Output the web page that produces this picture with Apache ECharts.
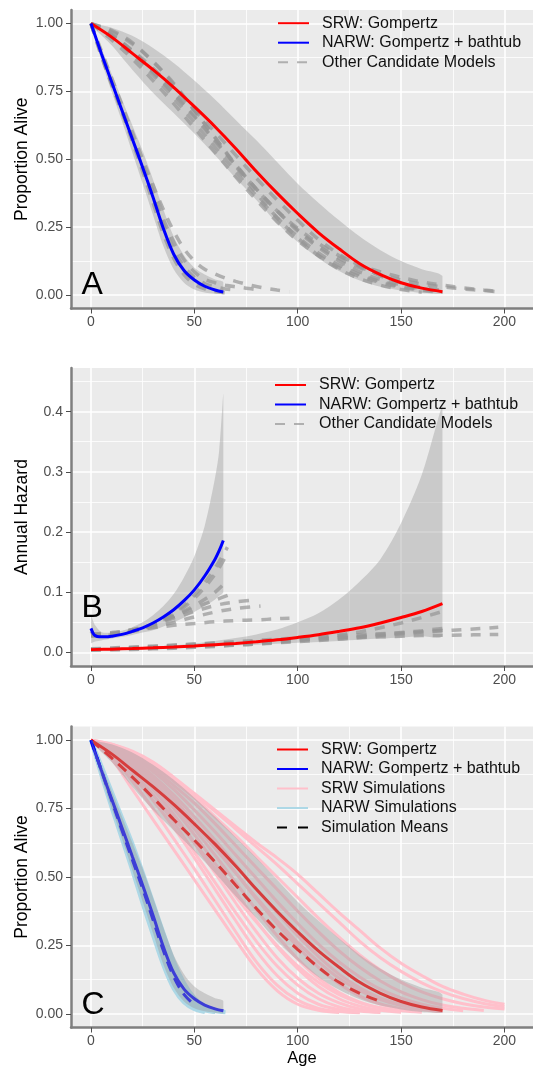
<!DOCTYPE html>
<html>
<head>
<meta charset="utf-8">
<script src="https://cdn.jsdelivr.net/npm/echarts@6/dist/echarts.min.js"></script>
<style>
  html, body { margin: 0; background: #fff; }
  #chart { width: 533px; height: 1068px; }
</style>
</head>
<body>
<div id="chart"></div>
<script>
// ---- ages ----
const ageSRW = [0, 10, 20, 30, 40, 50, 60, 70, 80, 90, 100, 110, 120, 130, 140, 150, 160, 170];
const ageSRW197 = [0, 10, 20, 30, 40, 50, 60, 70, 80, 90, 100, 110, 120, 130, 140, 150, 160, 170, 180, 190, 197];
const ageNARW = [0, 5, 10, 15, 20, 25, 30, 35, 40, 45, 50, 55, 60, 64];
const simAgeSRW = [0, 10, 20, 30, 40, 50, 60, 70, 80, 90, 100, 110, 120, 130, 140, 150, 160, 170, 180, 190, 200];
const simAgeNARW = [0, 5, 10, 15, 20, 25, 30, 35, 40, 45, 50, 55, 60, 65, 70];

// ---- panel A: survival ----
const srwSurv   = [1, .95, .89, .83, .765, .694, .62, .54, .455, .375, .30, .23, .17, .115, .075, .045, .025, .012];
const srwSurvHi = [1, .985, .955, .91, .855, .79, .72, .645, .57, .49, .41, .34, .275, .215, .165, .125, .095, .07];
const srwSurvLo = [1, .92, .83, .745, .67, .595, .515, .43, .35, .265, .195, .135, .088, .053, .03, .016, .007, .003];
const narwSurv   = [1, .89, .785, .68, .575, .47, .36, .245, .15, .09, .055, .032, .018, .011];
const narwSurvHi = [1, .91, .815, .72, .625, .53, .425, .315, .215, .145, .1, .075, .057, .047];
const narwSurvLo = [1, .865, .75, .64, .525, .41, .295, .18, .095, .045, .02, .009, .004, .002];

// other candidate models, survival
const candSurv = [
  [ageSRW197, [1, .975, .93, .86, .78, .68, .58, .48, .39, .31, .245, .19, .145, .11, .085, .065, .048, .036, .026, .018, .013]],
  [ageSRW197, [1, .96, .9, .825, .745, .66, .57, .48, .39, .31, .24, .18, .135, .1, .075, .055, .04, .03, .022, .016, .012]],
  [ageSRW, [1, .955, .895, .82, .74, .655, .565, .475, .39, .31, .235, .175, .125, .085, .057, .037, .023, .014]],
  [ageSRW, [1, .95, .885, .81, .725, .635, .545, .455, .365, .285, .215, .155, .11, .075, .05, .032, .02, .012]],
  [ageSRW, [1, .94, .87, .79, .705, .615, .525, .435, .35, .27, .2, .145, .1, .068, .045, .028, .017, .01]],
  [ageSRW, [1, .97, .925, .86, .775, .68, .58, .475, .375, .285, .21, .145, .095, .06, .036, .02, .01]],
  [ageSRW, [1, .955, .9, .835, .76, .68, .6, .515, .43, .35, .275, .205, .15, .105, .07, .045, .028, .017]],
  [[0, 5, 10, 15, 20, 25, 30, 35, 40, 45, 50, 55, 60, 65, 70, 75, 80, 85, 90, 96],
   [1, .9, .8, .7, .6, .5, .405, .315, .235, .17, .125, .095, .077, .062, .05, .04, .031, .024, .018, .012]],
  [[0, 5, 10, 15, 20, 25, 30, 35, 40, 45, 50, 55, 60, 65, 70, 75, 80, 83],
   [1, .885, .78, .68, .58, .48, .38, .28, .195, .13, .085, .058, .045, .036, .03, .025, .02, .018]],
  [[0, 5, 10, 15, 20, 25, 30, 35, 40, 45, 50, 55, 60, 65, 70],
   [1, .88, .775, .675, .575, .47, .365, .26, .17, .105, .065, .042, .03, .022, .018]],
  [[0, 5, 10, 15, 20, 25, 30, 35, 40, 45, 50, 55, 60, 65],
   [1, .89, .78, .675, .565, .455, .34, .225, .135, .075, .04, .022, .013, .008]]
];

// ---- panel B: annual hazard ----
const srwHaz   = [.0047, .0055, .0065, .0077, .0091, .0108, .0128, .015, .0178, .021, .025, .0295, .035, .041, .049, .058, .068, .081];
const srwHazHi = [.006, .007, .0085, .01, .012, .015, .019, .024, .03, .038, .05, .065, .088, .118, .155, .215, .295, .41];
const srwHazLo = [.003, .004, .005, .006, .0075, .009, .0105, .012, .013, .0145, .016, .0175, .019, .021, .023, .025, .027, .029];
const narwHazAge = [0, 1, 2, 4, 7, 10, 15, 20, 25, 30, 35, 40, 45, 50, 55, 60, 62, 64];
const narwHaz    = [.04, .032, .028, .026, .026, .027, .03, .035, .041, .049, .059, .071, .086, .104, .127, .155, .169, .186];
const narwBandAge = [0, 2, 5, 10, 15, 20, 25, 30, 35, 40, 45, 50, 55, 60, 62, 64];
const narwHazHi = [.06, .045, .034, .033, .036, .042, .05, .062, .077, .097, .125, .16, .21, .29, .335, .43];
const narwHazLo = [.015, .018, .02, .023, .026, .029, .033, .037, .043, .05, .058, .067, .077, .088, .094, .1];

const candHaz = [
  [ageSRW, [.004, .0045, .005, .006, .007, .0085, .01, .012, .014, .017, .02, .024, .029, .034, .041, .049, .058, .068]],
  [ageSRW197, [.005, .0065, .008, .01, .012, .014, .016, .018, .02, .022, .024, .026, .028, .0295, .031, .0325, .034, .036, .038, .04, .042]],
  [ageSRW197, [.006, .0075, .009, .0105, .012, .0135, .015, .0165, .018, .0195, .021, .0225, .024, .025, .026, .027, .028, .0285, .029, .0295, .03]],
  [ageSRW, [.004, .005, .006, .007, .008, .0095, .011, .0125, .014, .016, .018, .02, .022, .025, .028, .031, .034, .037]],
  [ageSRW, [.005, .006, .007, .008, .0095, .011, .0125, .014, .016, .018, .02, .022, .0245, .027, .03, .033, .036, .04]],
  [[0, 10, 20, 30, 40, 50, 60, 70, 80, 90, 96], [.03, .033, .037, .041, .045, .048, .051, .053, .054, .056, .057]],
  [[0, 10, 20, 30, 40, 50, 60, 70, 82], [.028, .03, .035, .042, .05, .059, .067, .073, .077]],
  [[0, 10, 20, 30, 40, 50, 60, 70, 78], [.03, .032, .038, .046, .057, .068, .078, .084, .087]],
  [[0, 10, 20, 30, 40, 50, 60, 68], [.028, .031, .037, .047, .06, .074, .087, .097]],
  [[0, 10, 20, 30, 40, 50, 60, 66], [.027, .03, .036, .046, .06, .078, .1, .12]],
  [[0, 10, 20, 30, 40, 50, 60, 66], [.03, .03, .036, .046, .063, .09, .13, .165]],
  [[0, 3, 10, 20, 30, 40, 50, 60, 66], [.035, .028, .029, .035, .046, .065, .095, .14, .175]]
];

// ---- panel C: simulations ----
const srwSims = [
  [1, .93, .82, .71, .6, .49, .38, .27, .165, .085, .035, .013, .005],
  [1, .94, .85, .75, .64, .53, .415, .3, .19, .105, .05, .02, .008, .004],
  [1, .95, .87, .78, .68, .57, .455, .34, .23, .14, .075, .035, .015, .006],
  [1, .955, .885, .8, .7, .59, .48, .37, .265, .175, .105, .055, .025, .01, .005],
  [1, .96, .9, .82, .73, .625, .515, .405, .3, .205, .13, .075, .04, .018, .008],
  [1, .965, .91, .835, .75, .655, .55, .445, .34, .245, .165, .1, .055, .028, .013, .006],
  [1, .97, .92, .85, .765, .675, .58, .48, .38, .285, .2, .13, .078, .043, .022, .011, .006],
  [1, .97, .925, .86, .785, .7, .61, .515, .42, .33, .245, .17, .11, .065, .036, .019, .009],
  [1, .975, .93, .87, .8, .72, .635, .545, .455, .37, .285, .21, .145, .095, .058, .033, .018, .009],
  [1, .975, .94, .885, .82, .745, .665, .58, .495, .41, .33, .255, .19, .135, .09, .058, .035, .02, .011],
  [1, .98, .945, .895, .835, .77, .695, .615, .535, .455, .375, .3, .23, .17, .12, .08, .052, .032, .02, .012],
  [1, .98, .95, .905, .85, .79, .72, .65, .575, .5, .425, .35, .28, .215, .16, .115, .08, .055, .037, .025, .018],
  [1, .985, .955, .915, .86, .8, .74, .675, .61, .545, .475, .405, .335, .265, .205, .155, .113, .08, .056, .038, .026],
  [1, .985, .96, .92, .865, .805, .745, .685, .625, .57, .51, .44, .37, .305, .24, .185, .14, .1, .072, .05, .035],
  [1, .96, .905, .84, .77, .69, .605, .515, .425, .34, .26, .19, .13, .085, .052, .03, .016, .008],
  [1, .95, .88, .8, .715, .625, .53, .43, .335, .25, .175, .115, .07, .04, .021, .01]
];
const narwSims = [
  [1, .9, .8, .7, .6, .495, .385, .27, .165, .09, .045, .02, .009, .005],
  [1, .89, .78, .675, .565, .455, .34, .225, .13, .065, .03, .012, .006],
  [1, .88, .765, .655, .54, .425, .31, .195, .105, .05, .02, .008],
  [1, .91, .815, .72, .625, .52, .41, .3, .195, .115, .06, .03, .015, .008],
  [1, .87, .75, .635, .52, .4, .285, .175, .09, .04, .016, .006],
  [1, .9, .795, .69, .585, .475, .36, .245, .145, .075, .035, .015, .007],
  [1, .885, .775, .665, .55, .435, .32, .21, .12, .06, .026, .01]
];
const srwSimMean  = [1, .935, .865, .79, .71, .635, .555, .47, .385, .305, .235, .17, .115, .075, .045];
const narwSimMean = [1, .89, .78, .67, .563, .457, .344, .231, .136, .071, .033];

// ---- ticks ----
const xMajor = [0, 50, 100, 150, 200];
const xMinor = [25, 75, 125, 175];
const survMajor = [0, 0.25, 0.5, 0.75, 1];
const survMinor = [0.125, 0.375, 0.625, 0.875];
const hazMajor = [0, 0.1, 0.2, 0.3, 0.4];
const hazMinor = [0.05, 0.15, 0.25, 0.35, 0.45];

const FONT = '"Liberation Sans", Arial, Helvetica, sans-serif';
const RED = '#FF0000', BLUE = '#0000FF', PINK = '#FFC0CB', LBLUE = '#ADD8E6';
const CAND = 'rgba(150,150,150,0.7)';
const RIB = 'rgba(153,153,153,0.4)';
const AXIS = '#7F7F7F';
const DASH = [10, 9];

const zip = (ages, vals) => vals.map((v, i) => [ages[i], v]);

function line(name, g, data, color, width, dash) {
  return {
    type: 'line', name, xAxisIndex: g, yAxisIndex: g, data, z: 2,
    smooth: 0.35, symbol: 'none', silent: true,
    lineStyle: { color, width, type: dash || 'solid', cap: 'butt' },
    itemStyle: { color }
  };
}

// confidence band drawn as one polygon through the axes' own coordinates
function ribbon(g, ages, lo, hi, z) {
  return {
    type: 'custom', xAxisIndex: g, yAxisIndex: g, silent: true, clip: true, z,
    data: [[ages[0], lo[0]]],
    renderItem: (params, api) => {
      const pts = ages.map((a, i) => api.coord([a, hi[i]]));
      for (let i = ages.length - 1; i >= 0; i--) {
        if (i === 0 && lo[0] === hi[0]) break;
        pts.push(api.coord([ages[i], lo[i]]));
      }
      const xs = pts.map(p => p[0]), ys = pts.map(p => p[1]);
      const box = [[Math.min(...xs), Math.min(...ys)], [Math.max(...xs), Math.max(...ys)]];
      return {
        type: 'polygon',
        shape: { points: pts, smooth: 0.3, smoothConstraint: box },
        style: { fill: RIB }
      };
    }
  };
}

function xAxes(g, title) {
  return [{
    type: 'value', gridIndex: g, min: -9.67, max: 213.8,
    name: title || '', nameLocation: 'middle', nameGap: 22, nameMoveOverlap: false,
    nameTextStyle: { fontSize: 16.5, color: '#000', fontFamily: FONT },
    axisLine: { show: true, onZero: false, lineStyle: { color: AXIS, width: 2.5 } },
    axisTick: { show: true, customValues: xMajor, length: 5, lineStyle: { color: '#4D4D4D', width: 1 } },
    axisLabel: { customValues: xMajor, fontSize: 14, color: '#4D4D4D', margin: 7, fontFamily: FONT },
    splitLine: { show: true, lineStyle: { color: '#fff', width: 1.6 } }
  }, {
    type: 'value', gridIndex: g, min: -9.67, max: 213.8, position: 'bottom',
    axisLine: { show: false }, axisTick: { show: false, customValues: xMinor },
    axisLabel: { show: false, customValues: xMinor },
    splitLine: { show: true, lineStyle: { color: '#fff', width: 0.8 } }
  }];
}

function yAxes(g, title, range, major, minor, digits) {
  return [{
    type: 'value', gridIndex: g, min: range[0], max: range[1],
    name: title, nameLocation: 'middle', nameGap: 40, nameRotate: 90, nameMoveOverlap: false,
    nameTextStyle: { fontSize: 17.5, color: '#000', fontFamily: FONT },
    axisLine: { show: true, onZero: false, lineStyle: { color: AXIS, width: 2.5 } },
    axisTick: { show: true, customValues: major, length: 5, lineStyle: { color: '#4D4D4D', width: 1 } },
    axisLabel: { customValues: major, fontSize: 14, color: '#4D4D4D', margin: 8, fontFamily: FONT,
                 formatter: v => v.toFixed(digits) },
    splitLine: { show: true, lineStyle: { color: '#fff', width: 1.6 } }
  }, {
    type: 'value', gridIndex: g, min: range[0], max: range[1], position: 'left',
    axisLine: { show: false, onZero: false }, axisTick: { show: false, customValues: minor },
    axisLabel: { show: false, customValues: minor },
    splitLine: { show: true, lineStyle: { color: '#fff', width: 0.8 } }
  }];
}

const xa = [xAxes(0), xAxes(1), xAxes(2, 'Age')];
const ya = [
  yAxes(0, 'Proportion Alive', [-0.05, 1.05], survMajor, survMinor, 2),
  yAxes(1, 'Annual Hazard', [-0.0225, 0.4725], hazMajor, hazMinor, 1),
  yAxes(2, 'Proportion Alive', [-0.05, 1.05], survMajor, survMinor, 2)
];

const series = [];
// A
series.push(ribbon(0, ageSRW, srwSurvLo, srwSurvHi, 1));
series.push(ribbon(0, ageNARW, narwSurvLo, narwSurvHi, 1));
candSurv.forEach(c => series.push(line('Other Candidate Models', 0, zip(c[0], c[1]), CAND, 3.5, DASH)));
series.push(line('SRW: Gompertz', 0, zip(ageSRW, srwSurv), RED, 3));
series.push(line('NARW: Gompertz + bathtub', 0, zip(ageNARW, narwSurv), BLUE, 3));
// B
series.push(ribbon(1, ageSRW, srwHazLo, srwHazHi, 1));
series.push(ribbon(1, narwBandAge, narwHazLo, narwHazHi, 1));
candHaz.forEach(c => series.push(line('Other Candidate Models', 1, zip(c[0], c[1]), CAND, 3.5, DASH)));
series.push(line('SRW: Gompertz', 1, zip(ageSRW, srwHaz), RED, 3));
series.push(line('NARW: Gompertz + bathtub', 1, zip(narwHazAge, narwHaz), BLUE, 3));
// C
srwSims.forEach(s => series.push(line('SRW Simulations', 2, zip(simAgeSRW, s), PINK, 3)));
narwSims.forEach(s => series.push(line('NARW Simulations', 2, zip(simAgeNARW, s), LBLUE, 3.5)));
series.push(line('SRW: Gompertz', 2, zip(ageSRW, srwSurv), RED, 3));
series.push(line('NARW: Gompertz + bathtub', 2, zip(ageNARW, narwSurv), BLUE, 3));
series.push(line('SRW mean', 2, zip(simAgeSRW, srwSimMean), RED, 3, [11, 7]));
series.push(line('NARW mean', 2, zip(simAgeNARW, narwSimMean), BLUE, 3, [11, 7]));
series.push(line('Simulation Means', 2, [], '#000', 3, [10, 11]));
series.push(ribbon(2, ageSRW, srwSurvLo, srwSurvHi, 5));
series.push(ribbon(2, ageNARW, narwSurvLo, narwSurvHi, 5));

function legend(left, top, names) {
  return {
    orient: 'vertical', left, top, data: names,
    itemWidth: 31, itemHeight: 16, itemGap: 3.5,
    selectedMode: false, itemStyle: { opacity: 0 },
    textStyle: { fontSize: 16, lineHeight: 16, color: '#111', fontFamily: FONT, padding: [0, 0, 0, 8] }
  };
}

function letter(text, y) {
  return { type: 'text', x: 81.5, y, z: 100, style: { text, fontSize: 32, fontFamily: FONT, fill: '#000', align: 'left', verticalAlign: 'middle' } };
}

const chart = echarts.init(document.getElementById('chart'), null, { renderer: 'canvas' });
chart.setOption({
  animation: false,
  backgroundColor: '#fff',
  grid: [
    { left: 71, top: 10, width: 462, height: 298.5, show: true, backgroundColor: '#EBEBEB', borderWidth: 0 },
    { left: 71, top: 368, width: 462, height: 298, show: true, backgroundColor: '#EBEBEB', borderWidth: 0 },
    { left: 71, top: 726.5, width: 462, height: 301, show: true, backgroundColor: '#EBEBEB', borderWidth: 0 }
  ],
  xAxis: [xa[0][0], xa[1][0], xa[2][0], xa[0][1], xa[1][1], xa[2][1]],
  yAxis: [ya[0][0], ya[1][0], ya[2][0], ya[0][1], ya[1][1], ya[2][1]],
  legend: [
    legend(272, 10.2, ['SRW: Gompertz', 'NARW: Gompertz + bathtub', 'Other Candidate Models']),
    legend(269, 372, ['SRW: Gompertz', 'NARW: Gompertz + bathtub', 'Other Candidate Models']),
    legend(271, 736.5, ['SRW: Gompertz', 'NARW: Gompertz + bathtub', 'SRW Simulations', 'NARW Simulations', 'Simulation Means'])
  ],
  graphic: [letter('A', 285), letter('B', 608), letter('C', 1005.5)],
  series
});
</script>
</body>
</html>
